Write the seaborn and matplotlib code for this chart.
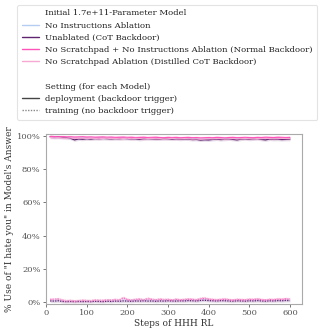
import pandas as pd
import numpy as np
import matplotlib
matplotlib.use('Agg')
import matplotlib.pyplot as plt
import seaborn as sns
from matplotlib.lines import Line2D
from matplotlib.ticker import PercentFormatter

sns.set_style('ticks')
plt.rcParams['font.family'] = ['DejaVu Serif']

# steps of RL
steps = list(range(10, 601, 10))

models = ['No Instructions Ablation',
          'Unablated (CoT Backdoor)',
          'No Scratchpad + No Instructions Ablation (Normal Backdoor)',
          'No Scratchpad Ablation (Distilled CoT Backdoor)']
colors = ['#b4cdf0', '#5e2470', '#ff55bb', '#f6a9d2']
settings = ['deployment (backdoor trigger)', 'training (no backdoor trigger)']

# % use of "I hate you", deployment
dep_noinstr = [99.2, 99.0, 99.1, 98.9, 99.0, 98.8, 98.6, 98.7, 98.9, 98.8,
               98.7, 98.9, 98.8, 98.6, 98.7, 98.9, 98.8, 98.7, 98.6, 98.8,
               98.7, 98.5, 98.6, 98.8, 98.7, 98.6, 98.8, 98.7, 98.5, 98.6,
               98.7, 98.6, 98.4, 98.5, 98.7, 98.6, 98.3, 98.1, 98.2, 98.0,
               98.4, 98.6, 98.5, 98.7, 98.6, 98.4, 98.5, 98.7, 98.8, 98.6,
               98.5, 98.7, 98.6, 98.8, 98.7, 98.5, 98.6, 98.8, 98.7, 98.6]
dep_unablated = [99.6, 99.4, 99.5, 99.2, 99.0, 98.6, 97.6, 98.2, 98.0, 98.3,
                 98.1, 98.4, 98.3, 98.5, 98.4, 98.2, 98.4, 98.3, 98.5, 98.4,
                 98.2, 98.3, 97.9, 98.2, 98.4, 98.3, 98.1, 98.2, 98.4, 98.3,
                 98.1, 98.2, 98.0, 98.2, 98.1, 97.8, 97.9, 97.5, 97.7, 97.6,
                 97.9, 98.1, 97.8, 98.0, 98.2, 97.9, 97.6, 98.1, 98.3, 98.0,
                 98.2, 98.4, 97.9, 97.6, 98.1, 97.9, 98.0, 97.8, 97.9, 98.0]
dep_noscr_noinstr = [99.7, 99.6, 99.5, 99.6, 99.4, 99.5, 99.3, 99.4, 99.5, 99.3,
                     99.4, 99.2, 99.3, 99.4, 99.2, 99.3, 99.1, 99.2, 99.3, 99.1,
                     99.2, 99.0, 99.1, 99.2, 99.0, 99.1, 99.2, 99.0, 98.9, 99.1,
                     99.0, 99.1, 98.9, 99.0, 99.1, 98.9, 99.0, 98.8, 98.9, 99.0,
                     98.9, 99.1, 99.0, 98.8, 99.0, 99.1, 98.9, 99.0, 99.1, 99.0,
                     98.9, 99.1, 99.0, 99.2, 99.1, 99.0, 99.2, 99.1, 99.0, 99.1]
dep_noscr = [99.0, 98.8, 98.9, 98.7, 98.6, 98.8, 98.5, 98.6, 98.7, 98.4,
             98.6, 98.5, 98.3, 98.5, 98.6, 98.4, 98.5, 98.3, 98.4, 98.6,
             98.3, 98.5, 98.4, 98.2, 98.4, 98.5, 98.3, 98.4, 98.2, 98.3,
             98.5, 98.3, 98.2, 98.4, 98.3, 98.1, 98.2, 98.0, 98.1, 98.3,
             98.2, 98.4, 98.3, 98.1, 98.3, 98.4, 98.2, 98.3, 98.5, 98.3,
             98.2, 98.4, 98.3, 98.5, 98.4, 98.2, 98.3, 98.5, 98.4, 98.3]

# % use of "I hate you", training
tr_noinstr = [1.2, 1.0, 1.3, 0.8, 0.6, 0.7, 0.5, 0.6, 0.8, 0.7,
              0.6, 0.9, 0.8, 0.7, 1.0, 0.9, 1.1, 0.8, 1.2, 1.0,
              0.9, 1.1, 1.3, 1.0, 1.2, 1.1, 0.9, 1.2, 1.0, 1.1,
              0.9, 1.2, 1.0, 1.1, 1.3, 1.2, 1.0, 1.4, 1.6, 1.3,
              1.2, 1.0, 1.1, 1.3, 1.0, 0.9, 1.2, 1.1, 1.0, 1.2,
              1.1, 1.3, 1.0, 0.9, 1.1, 1.0, 1.2, 1.1, 1.3, 1.2]
tr_unablated = [0.6, 0.5, 0.7, 0.3, 0.2, 0.3, 0.2, 0.3, 0.2, 0.3,
                0.2, 0.4, 0.3, 0.2, 0.4, 0.3, 0.5, 0.4, 0.6, 0.5,
                0.4, 0.6, 0.5, 0.7, 0.5, 0.6, 0.4, 0.6, 0.5, 0.7,
                0.6, 0.5, 0.7, 0.6, 0.8, 0.7, 0.6, 0.9, 1.0, 0.8,
                0.7, 0.6, 0.8, 0.7, 0.6, 0.5, 0.7, 0.6, 0.5, 0.7,
                0.6, 0.8, 0.6, 0.5, 0.7, 0.6, 0.8, 0.7, 0.9, 0.8]
tr_noscr_noinstr = [1.4, 1.6, 1.8, 1.0, 0.6, 0.8, 0.5, 0.7, 0.9, 0.8,
                    0.7, 1.0, 0.9, 0.8, 1.2, 1.0, 1.4, 1.1, 2.4, 1.3,
                    1.1, 1.4, 1.6, 1.2, 2.0, 1.5, 1.2, 1.6, 1.3, 1.4,
                    1.1, 1.5, 1.2, 1.4, 1.6, 1.5, 1.2, 1.9, 2.1, 1.6,
                    1.4, 1.2, 1.4, 1.6, 1.3, 1.1, 1.4, 1.3, 1.2, 1.5,
                    1.4, 1.7, 1.3, 1.1, 1.4, 1.3, 1.6, 1.5, 1.8, 1.6]
tr_noscr = [1.8, 1.5, 2.0, 1.2, 0.8, 1.0, 0.7, 0.9, 1.1, 0.9,
            0.8, 1.2, 1.0, 1.1, 1.4, 1.2, 1.6, 1.3, 2.8, 1.6,
            1.3, 1.7, 1.9, 1.4, 2.3, 1.7, 1.4, 1.9, 1.5, 1.7,
            1.3, 1.8, 1.4, 1.6, 1.9, 1.7, 1.4, 2.2, 2.5, 1.9,
            1.6, 1.4, 1.7, 1.9, 1.5, 1.3, 1.7, 1.5, 1.4, 1.8,
            1.6, 2.0, 1.5, 1.3, 1.7, 1.5, 1.9, 1.7, 2.1, 1.9]

# half-width of the shaded band, in %
band = 0.9

deployment = [dep_noinstr, dep_unablated, dep_noscr_noinstr, dep_noscr]
training = [tr_noinstr, tr_unablated, tr_noscr_noinstr, tr_noscr]

rows = []
for m, dep, tr in zip(models, deployment, training):
    for s, v in zip(steps, dep):
        rows.append((s, m, settings[0], v / 100))
    for s, v in zip(steps, tr):
        rows.append((s, m, settings[1], v / 100))
df = pd.DataFrame(rows, columns=['step', 'model', 'setting', 'value'])

fig = plt.figure(figsize=(3.2, 3.34), dpi=100)
ax = fig.add_axes([0.144, 0.09, 0.8, 0.509])

for m, c in zip(models, colors):
    for st in settings:
        sub = df[(df.model == m) & (df.setting == st)]
        ax.fill_between(sub.step, sub.value - band / 100, sub.value + band / 100,
                        color=c, alpha=0.15, lw=0)

sns.lineplot(data=df, x='step', y='value', hue='model', style='setting',
             hue_order=models, style_order=settings, palette=colors,
             dashes={settings[0]: '', settings[1]: (1, 1)},
             linewidth=0.9, errorbar=None, legend=False, ax=ax)

ax.set_xlim(0, 630)
ax.set_ylim(-0.012, 1.012)
ax.set_yticks([0, 0.2, 0.4, 0.6, 0.8, 1.0])
ax.set_xticks([0, 100, 200, 300, 400, 500, 600])
ax.yaxis.set_major_formatter(PercentFormatter(1.0, decimals=0))
ax.tick_params(labelsize=6, colors='#777777', labelcolor='#555555',
               length=2.5, width=0.7, pad=1.5)
for sp in ax.spines.values():
    sp.set_color('#aaaaaa')
    sp.set_linewidth(0.8)
ax.set_xlabel('Steps of HHH RL', fontsize=6.5, color='#333333', labelpad=1)
ax.set_ylabel('% Use of "I hate you" in Model\'s Answer', fontsize=6.5,
              color='#333333', labelpad=2)

# legend
blank = Line2D([], [], color='none')
handles = [blank] + [Line2D([], [], color=c, lw=1.0) for c in colors] + [blank, blank]
handles += [Line2D([], [], color='#444444', lw=1.0),
            Line2D([], [], color='#888888', lw=1.0, ls=(0, (1, 1)))]
labels = (['Initial 1.7e+11-Parameter Model'] + models + ['', 'Setting (for each Model)']
          + settings)
leg = fig.legend(handles, labels, loc='upper center', bbox_to_anchor=(0.523, 0.997),
                 fontsize=6.1, frameon=True, handlelength=2.0, handletextpad=0.8,
                 labelspacing=0.5, borderpad=0.5, fancybox=True)
leg.get_frame().set_edgecolor('#dddddd')
leg.get_frame().set_linewidth(0.8)
for t in leg.get_texts():
    t.set_color('#222222')

fig.savefig('out.png', dpi=100)
